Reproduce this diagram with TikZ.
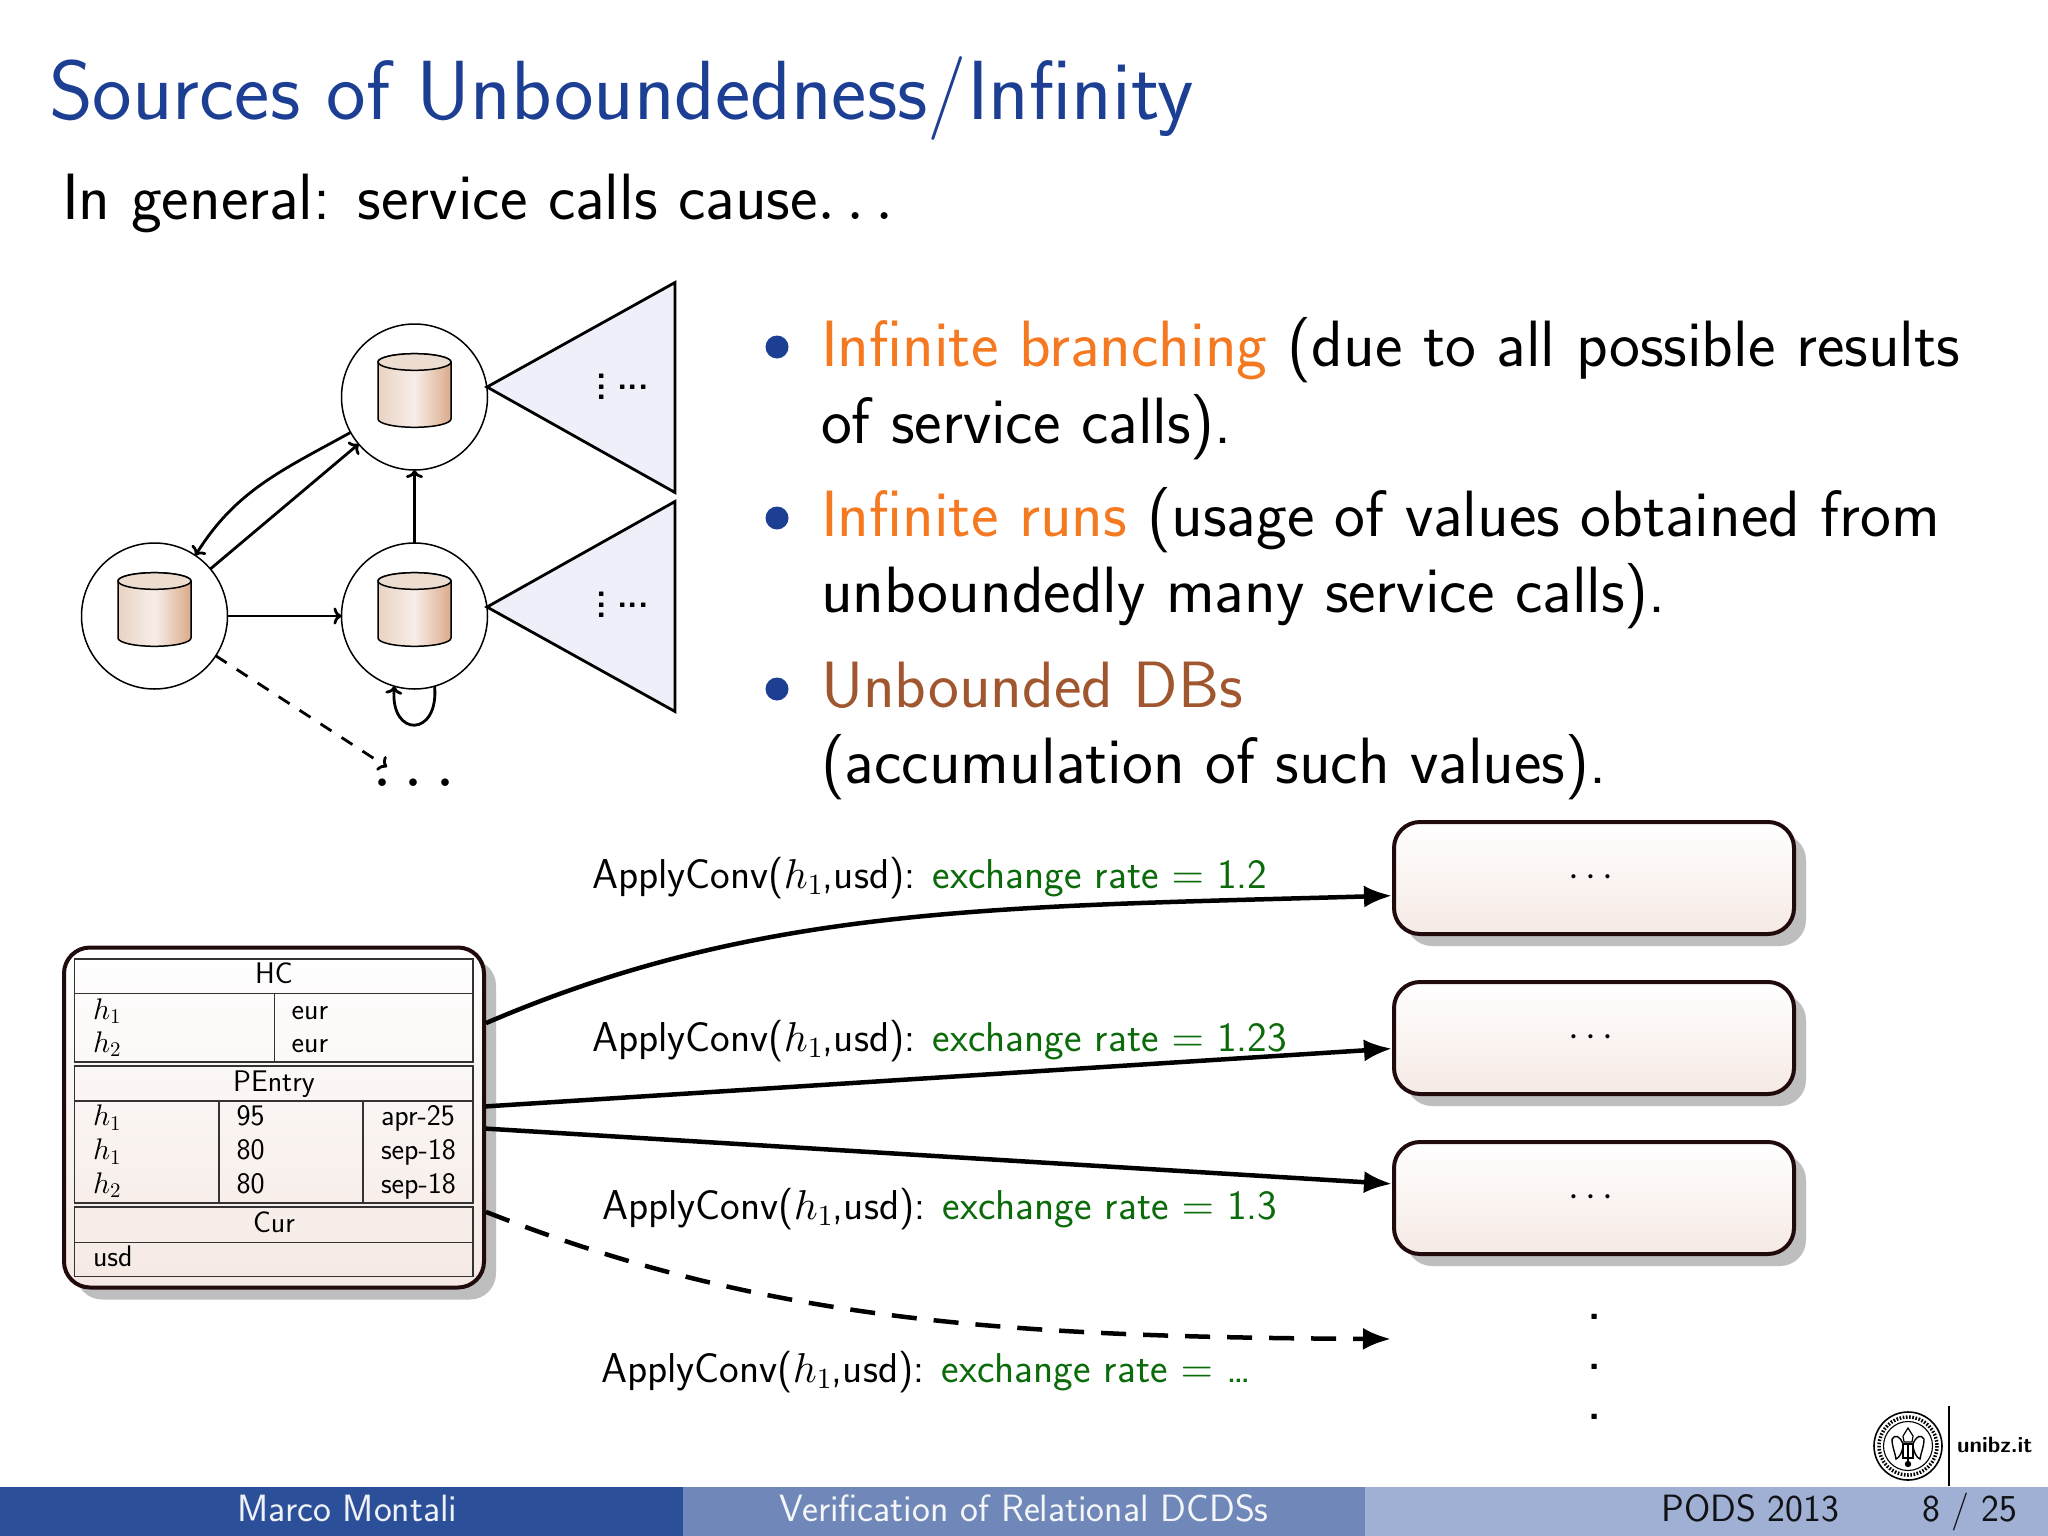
\documentclass[tikz,border=0pt]{standalone}
\DeclareFontFamily{OML}{cmm}{\skewchar\font=127}
\DeclareFontShape{OML}{cmm}{m}{it}{<-> cmmi10}{}
\DeclareFontFamily{OMS}{cmsy}{\skewchar\font=48}
\DeclareFontShape{OMS}{cmsy}{m}{n}{<-> cmsy10}{}
\DeclareFontFamily{OT1}{cmr}{\hyphenchar\font=45}
\DeclareFontShape{OT1}{cmr}{m}{n}{<-> cmr10}{}
\renewcommand{\familydefault}{\sfdefault}
\usetikzlibrary{shadows,arrows.meta,calc}
\definecolor{titleblue}{HTML}{1C3F94}
\definecolor{infor}{HTML}{F47920}
\definecolor{unbr}{HTML}{A0562E}
\definecolor{xgreen}{HTML}{0B6B0B}
\definecolor{barA}{HTML}{2C4F99}
\definecolor{barB}{HTML}{7088B9}
\definecolor{barC}{HTML}{A0B0D4}
\definecolor{boxedge}{HTML}{200A0C}
\definecolor{boxbot}{HTML}{F5E9E4}
\definecolor{shadowgray}{HTML}{BEBEBE}
\definecolor{triflll}{HTML}{EEF0F9}
\newcommand{\fsz}[1]{\fontsize{#1}{#1}\selectfont}
\tikzset{
  x=1pt,y=-1pt,
  txt/.style={anchor=base west,inner sep=0pt,outer sep=0pt},
  title/.style={txt,font=\fsz{84},text=titleblue},
  body/.style={txt,font=\fsz{65.5}},
  tbl/.style={txt,font=\fsz{29.8}},
  tblc/.style={anchor=base,inner sep=0pt,font=\fsz{29.8}},
  lab/.style={txt,font=\fsz{41.7}},
  foot/.style={anchor=base,inner sep=0pt,font=\fsz{38}},
  bulletdot/.style={circle,fill=titleblue,inner sep=0pt,minimum size=23pt},
  statec/.style={circle,draw,line width=1.5pt,minimum size=146pt,inner sep=0pt,outer sep=0pt},
  trans/.style={line width=2.8pt,-{To[length=8pt,width=17pt]}},
  triang/.style={draw,line width=2.8pt,fill=triflll,line join=miter},
  tline/.style={line width=1.3pt,draw=black!80},
  rbox/.style={draw=boxedge,line width=4pt,rounded corners=26pt,top color=white,bottom color=boxbot,
    general shadow={fill=shadowgray,shadow xshift=12pt,shadow yshift=-12pt},inner sep=0pt,outer sep=2pt},
  bigarrow/.style={line width=4.5pt,-{Latex[length=28pt,width=22pt]}},
  hdotsn/.style={inner sep=0pt,font=\fsz{34}\bfseries},
  vdotsn/.style={inner sep=0pt,align=center,font=\fontsize{34}{10.5}\selectfont\bfseries},
  dbicon/.pic={
    \shade[left color=dbL,right color=dbR,middle color=dbM,draw=black,line width=1.5pt]
      (-36.5,-35) -- (-36.5,22) arc[start angle=180,end angle=0,x radius=36.5,y radius=8.3]
      -- (36.5,-35) arc[start angle=0,end angle=-180,x radius=36.5,y radius=8.3] -- cycle;
    \draw[fill=dbT,line width=1.5pt] (0,-35) ellipse[x radius=36.5,y radius=8.3];
  }
}
\definecolor{dbL}{HTML}{E9D3C3}
\definecolor{dbM}{HTML}{F7EEE8}
\definecolor{dbR}{HTML}{DBAA8A}
\definecolor{dbT}{HTML}{EDDDD0}
\begin{document}
\begin{tikzpicture}
\useasboundingbox (0,0) rectangle (2048,1536);
\fill[white] (0,0) rectangle (2048,1536);
% title
\node[title] (ttl) at (49,120) {Sources of Unboundedness/Infinity};
\node[body] (intro) at (62,219) {In general: service calls cause$\ldots$};
% bullets
\node[bulletdot] (b1d) at (777,347) {};
\node[bulletdot] (b2d) at (777,518) {};
\node[bulletdot] (b3d) at (777,689) {};
\node[body] (l1) at (821,366) {\textcolor{infor}{Infinite branching} (due to all possible results};
\node[body] (l2) at (821,443) {of service calls).};
\node[body] (l3) at (821,536) {\textcolor{infor}{Infinite runs} (usage of values obtained from};
\node[body] (l4) at (821,612) {unboundedly many service calls).};
\node[body] (l5) at (821,707) {\textcolor{unbr}{Unbounded DBs}};
\node[body] (l6) at (821,783) {(accumulation of such values).};
% triangles
\path[triang] (487,387) -- (675,282.5) -- (675,492.5) -- cycle;
\path[triang] (487,607) -- (675,501.5) -- (675,711.5) -- cycle;
\node[vdotsn] (t1v) at (602,387) {.\\.\\.};
\node[hdotsn] (t1h) at (633,387) {...};
\node[vdotsn] (t2v) at (602,605) {.\\.\\.};
\node[hdotsn] (t2h) at (633,605) {...};
% states
\node[statec] (s0) at (154.5,616) {};
\node[statec] (s1) at (414.5,397) {};
\node[statec] (s2) at (414.5,616) {};
\pic at (s0) {dbicon};
\pic at (s1) {dbicon};
\pic at (s2) {dbicon};
\node[anchor=base,inner sep=0pt,font=\fsz{72}] (more) at (414,786) {$\ldots$};
\coordinate (moreend) at (387,767);
\draw[trans] (s0) -- (s1);
\draw[trans] (s1.209) to[out=209,in=58] (s0.56);
\draw[trans] (s0) -- (s2);
\draw[trans] (s2) -- (s1);
\draw[trans] (s2.-74) to[out=-85,in=-95,looseness=3.3] (s2.-106);
\draw[trans,dash pattern=on 13pt off 12pt] (s0.-33) -- (moreend);
% DB box
\node[rbox,minimum width=420pt,minimum height=340pt] (db) at (274,1117.5) {};
\draw[tline] (74.5,959) rectangle (473,1062);
\draw[tline] (74.5,993.3) -- (473,993.3) (274.3,993.3) -- (274.3,1062);
\draw[tline] (74.5,1066) rectangle (473,1203);
\draw[tline] (74.5,1101) -- (473,1101) (219,1101) -- (219,1203) (363,1101) -- (363,1203);
\draw[tline] (74.5,1207) rectangle (473,1276.7);
\draw[tline] (74.5,1242.3) -- (473,1242.3);
\node[tblc] (hHC) at (274,983) {HC};
\node[tbl] (c1) at (93,1019) {$h_1$};
\node[tbl] (c2) at (93,1052.3) {$h_2$};
\node[tbl] (c3) at (291.7,1019) {eur};
\node[tbl] (c4) at (291.7,1052.3) {eur};
\node[tblc] (hPE) at (274,1091.3) {PEntry};
\node[tbl] (d1) at (93,1125.6) {$h_1$};
\node[tbl] (d2) at (93,1159.6) {$h_1$};
\node[tbl] (d3) at (93,1193) {$h_2$};
\node[tbl] (e1) at (236.7,1125.6) {95};
\node[tbl] (e2) at (236.7,1159.6) {80};
\node[tbl] (e3) at (236.7,1193) {80};
\node[tbl] (f1) at (381,1125.6) {apr-25};
\node[tbl] (f2) at (381,1159.6) {sep-18};
\node[tbl] (f3) at (381,1193) {sep-18};
\node[tblc] (hCu) at (274,1232.3) {Cur};
\node[tbl] (g1) at (93,1266.3) {usd};
% result boxes
\node[rbox,minimum width=400pt,minimum height=112pt,font=\fsz{39}] (b1) at (1594,878) {\hspace*{-6pt}\raisebox{-1.3pt}{$\cdots$}};
\node[rbox,minimum width=400pt,minimum height=112pt,font=\fsz{39}] (b2) at (1594,1038) {\hspace*{-6pt}\raisebox{-1.3pt}{$\cdots$}};
\node[rbox,minimum width=400pt,minimum height=112pt,font=\fsz{39}] (b3) at (1594,1198) {\hspace*{-6pt}\raisebox{-1.3pt}{$\cdots$}};
\coordinate (b4end) at (1391,1339);
\draw[bigarrow] (db.24.8) .. controls (760,905) and (1000,907) .. (b1.185.4);
\draw[bigarrow] (db.3.66) -- (b2.183.4);
\draw[bigarrow] (db.-3.4) -- (b3.176.3);
\draw[bigarrow,dash pattern=on 25pt off 17pt] (db.-24.35) .. controls (760,1320) and (1000,1337) .. (b4end);
\node[lab] (a1) at (592,888) {ApplyConv($h_1$,usd): \textcolor{xgreen}{exchange rate $=$ 1.2}};
\node[lab] (a2) at (592,1051) {ApplyConv($h_1$,usd): \textcolor{xgreen}{exchange rate $=$ 1.23}};
\node[lab] (a3) at (602,1219) {ApplyConv($h_1$,usd): \textcolor{xgreen}{exchange rate $=$ 1.3}};
\node[lab] (a4) at (601,1382) {ApplyConv($h_1$,usd): \textcolor{xgreen}{exchange rate $=$ \ldots}};
\node[align=center,inner sep=0pt,font=\fontsize{40}{50}\selectfont\bfseries] (vd) at (1594.7,1367) {.\\.\\.};
% footer
\fill[barA] (0,1487) rectangle (682.67,1536);
\fill[barB] (682.67,1487) rectangle (1365.33,1536);
\fill[barC] (1365.33,1487) rectangle (2048,1536);
\node[foot,text=white!92!barA] (fa) at (347.5,1521) {Marco Montali};
\node[foot,text=white!92!barB] (fb) at (1024,1521) {Verification of Relational DCDSs};
\node[foot,anchor=base west,text=black!90!barC] (fc) at (1661,1521) {PODS 2013};
\node[foot,anchor=base west,text=black!90!barC] (fd) at (1922,1521) {8 / 25};
% logo
\draw[line width=1.6pt] (1908,1446) circle (34);
\draw[line width=3.5pt,dash pattern=on 1.6pt off 1.6pt] (1908,1446) circle (29);
\draw[line width=1.1pt] (1908,1446) circle (24.5);
\draw[line width=1.2pt,fill=white] (1908,1428) -- (1913,1436) -- (1912,1442) -- (1904,1442) -- (1903,1436) -- cycle;
\draw[line width=1.4pt] (1892,1439) .. controls (1895,1434) and (1900,1436) .. (1903,1444) .. controls (1903,1452) and (1899,1458) .. (1896,1459) .. controls (1895,1452) and (1892,1447) .. (1892,1439) -- cycle;
\draw[line width=1.4pt] (1924,1439) .. controls (1921,1434) and (1916,1436) .. (1913,1444) .. controls (1913,1452) and (1917,1458) .. (1920,1459) .. controls (1921,1452) and (1924,1447) .. (1924,1439) -- cycle;
\draw[line width=1.2pt] (1903,1444) rectangle (1913,1458) (1908,1444) -- (1908,1462);
\fill (1908,1464) circle (3.2);
\draw[line width=2pt] (1949.3,1406) -- (1949.3,1486);
\node[txt,font=\fsz{22.3}\bfseries] (ub) at (1957,1452) {unibz.it};
\end{tikzpicture}
\end{document}
